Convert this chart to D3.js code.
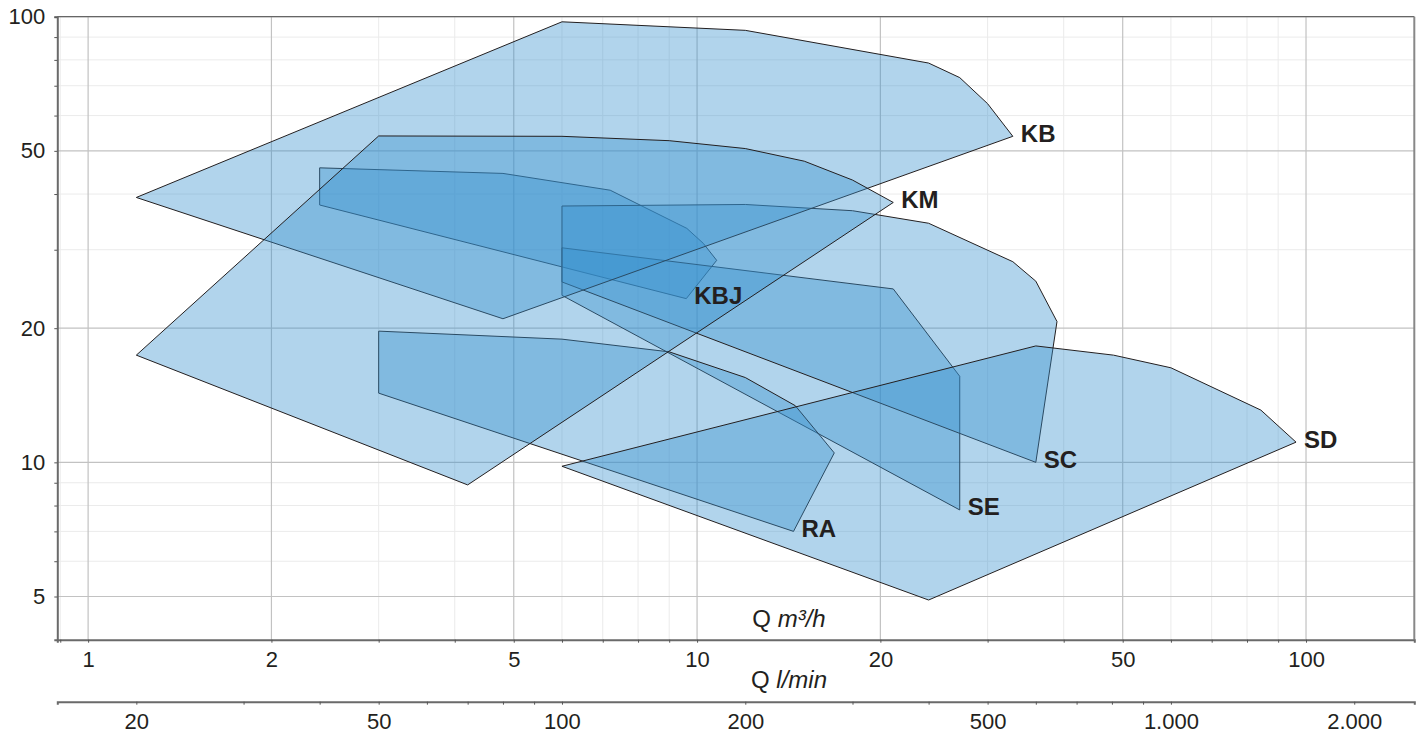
<!DOCTYPE html>
<html><head><meta charset="utf-8">
<script src="https://cdn.jsdelivr.net/npm/d3@7"></script>
<style>
html,body{margin:0;padding:0;background:#fff;}
svg{display:block;font-family:"Liberation Sans",Arial,Helvetica,sans-serif;}
</style></head><body>
<svg id="c" width="1423" height="735"></svg>
<script>
// ---- tick data ----
const qMajor = [1, 2, 5, 10, 20, 50, 100];
const qMinor = [0.9, 3, 4, 6, 7, 8, 9, 30, 40, 60, 70, 80, 90];
const hMajor = [5, 10, 20, 50, 100];
const hMinor = [6, 7, 8, 9, 30, 40, 60, 70, 80, 90];
const lminMajor = [20, 50, 100, 200, 500, 1000, 2000];
const lminMinor = [30, 40, 60, 70, 80, 90, 300, 400, 600, 700, 800, 900];
const lminLabels = ["20", "50", "100", "200", "500", "1.000", "2.000"];

// ---- pump range polygons (Q m3/h, H m) ----
const kbQ  = [1.2, 6.0, 12, 24, 27, 30, 33, 4.8];
const kbH  = [39.3, 97.4, 93.2, 78.7, 73.0, 63.8, 53.9, 21.0];
const kmQ  = [1.2, 3.0, 6.0, 9.0, 12, 15, 18, 21, 4.2];
const kmH  = [17.4, 54.0, 53.9, 52.7, 50.6, 47.4, 43.0, 38.3, 8.9];
const kbjQ = [2.4, 4.8, 7.2, 9.62, 10.24, 10.77, 9.6, 2.4];
const kbjH = [45.8, 44.5, 40.8, 33.5, 31.0, 28.4, 23.3, 37.8];
const scQ  = [6.0, 12, 18, 24, 33, 36, 39, 36, 6.0];
const scH  = [37.6, 37.9, 36.7, 34.4, 28.2, 25.5, 20.7, 10.0, 25.4];
const seQ  = [6.0, 21, 27, 27, 6.0];
const seH  = [30.3, 24.5, 15.6, 7.82, 23.7];
const raQ  = [3.0, 6.0, 9.0, 12, 14.5, 16.8, 14.4, 3.0];
const raH  = [19.7, 18.9, 17.7, 15.5, 13.4, 10.5, 7.0, 14.3];
const sdQ  = [6.0, 36, 48.3, 60, 84.3, 96.3, 24];
const sdH  = [9.8, 18.25, 17.4, 16.3, 13.1, 11.1, 4.91];

const pumpNames = ["KBJ", "SE", "SC", "RA", "KB", "KM", "SD"];   // drawing order
const pumpQ = {KB: kbQ, KM: kmQ, KBJ: kbjQ, SC: scQ, SE: seQ, RA: raQ, SD: sdQ};
const pumpH = {KB: kbH, KM: kmH, KBJ: kbjH, SC: scH, SE: seH, RA: raH, SD: sdH};
const labelVertex = {KB: 6, KM: 7, KBJ: 6, SC: 7, SE: 3, RA: 6, SD: 5};

// ---- layout ----
const L = 57.3, R = 1414.3, T = 16.7, B = 639.7, B2 = 701.7;
const svg = d3.select("#c");
const x = d3.scaleLog().domain([0.89, 150.6]).range([L, R]);
const y = d3.scaleLog().domain([4, 100]).range([B, T]);
const xl = d3.scaleLog().domain([0.89 * 1000 / 60, 150.6 * 1000 / 60]).range([L, R]);
const ink = "#231f20";

// grid
const g = svg.append("g");
g.selectAll(".vmin").data(qMinor).join("line")
  .attr("x1", d => x(d)).attr("x2", d => x(d)).attr("y1", T).attr("y2", B)
  .attr("stroke", "#ebebeb").attr("stroke-width", 1);
g.selectAll(".hmin").data(hMinor).join("line")
  .attr("y1", d => y(d)).attr("y2", d => y(d)).attr("x1", L).attr("x2", R)
  .attr("stroke", "#ebebeb").attr("stroke-width", 1);
g.selectAll(".vmaj").data(qMajor).join("line")
  .attr("x1", d => x(d)).attr("x2", d => x(d)).attr("y1", T).attr("y2", B)
  .attr("stroke", "#c2c2c2").attr("stroke-width", 1.2);
g.selectAll(".hmaj").data(hMajor).join("line")
  .attr("y1", d => y(d)).attr("y2", d => y(d)).attr("x1", L).attr("x2", R)
  .attr("stroke", "#c2c2c2").attr("stroke-width", 1.2);

// polygons
const line = d3.line().x(d => x(d[0])).y(d => y(d[1])).curve(d3.curveLinearClosed);
const pg = svg.append("g");
pumpNames.forEach(n => {
  const pts = pumpQ[n].map((q, i) => [q, pumpH[n][i]]);
  pg.append("path").attr("d", line(pts))
    .attr("fill", "rgb(54,145,207)").attr("fill-opacity", 0.39)
    .attr("stroke", ink).attr("stroke-width", 1).attr("stroke-linejoin", "miter");
});
pumpNames.forEach(n => {
  const i = labelVertex[n];
  svg.append("text").attr("x", x(pumpQ[n][i]) + 8).attr("y", y(pumpH[n][i]) - 3)
    .attr("dominant-baseline", "central")
    .attr("font-size", 24).attr("font-weight", "bold").attr("fill", ink).text(n);
});

// frame
svg.append("line").attr("x1", L).attr("x2", R).attr("y1", T).attr("y2", T).attr("stroke", "#666").attr("stroke-width", 1.3);
svg.append("line").attr("x1", R).attr("x2", R).attr("y1", T).attr("y2", B).attr("stroke", "#888").attr("stroke-width", 2);

// left axis
const ya = svg.append("g").attr("transform", `translate(${L},0)`)
  .call(d3.axisLeft(y).tickValues(hMajor.concat(hMinor)).tickSize(3).tickPadding(9)
    .tickFormat(d => hMajor.includes(d) ? d : ""));
ya.select(".domain").attr("stroke", "#6a6a6a").attr("stroke-width", 2);
ya.selectAll(".tick line").attr("stroke", "#555");
ya.selectAll("text").attr("font-size", 22).attr("fill", ink).attr("font-family", "Liberation Sans, Arial, sans-serif");

// bottom axis m3/h
const xa = svg.append("g").attr("transform", `translate(0,${B})`)
  .call(d3.axisBottom(x).tickValues(qMajor.concat(qMinor)).tickSize(3).tickPadding(9)
    .tickFormat(d => qMajor.includes(d) ? d : ""));
xa.select(".domain").attr("stroke", "#6a6a6a").attr("stroke-width", 2);
xa.selectAll(".tick line").attr("stroke", "#555");
xa.selectAll("text").attr("font-size", 22).attr("fill", ink).attr("font-family", "Liberation Sans, Arial, sans-serif");

// second axis l/min
const xb = svg.append("g").attr("transform", `translate(0,${B2})`)
  .call(d3.axisBottom(xl).tickValues(lminMajor.concat(lminMinor)).tickSize(3).tickPadding(9)
    .tickFormat(d => { const k = lminMajor.indexOf(d); return k >= 0 ? lminLabels[k] : ""; }));
xb.select(".domain").attr("stroke", "#6a6a6a").attr("stroke-width", 2);
xb.selectAll(".tick line").attr("stroke", "#555");
xb.selectAll("text").attr("font-size", 22).attr("fill", ink).attr("font-family", "Liberation Sans, Arial, sans-serif");

// axis titles
const cx = 789;
const t1 = svg.append("text").attr("x", cx).attr("y", 627).attr("text-anchor", "middle")
  .attr("font-size", 24).attr("fill", ink);
t1.append("tspan").text("Q ");
t1.append("tspan").attr("font-style", "italic").text("m³/h");
const t2 = svg.append("text").attr("x", cx).attr("y", 688).attr("text-anchor", "middle")
  .attr("font-size", 24).attr("fill", ink);
t2.append("tspan").text("Q ");
t2.append("tspan").attr("font-style", "italic").text("l/min");
</script>
</body></html>
